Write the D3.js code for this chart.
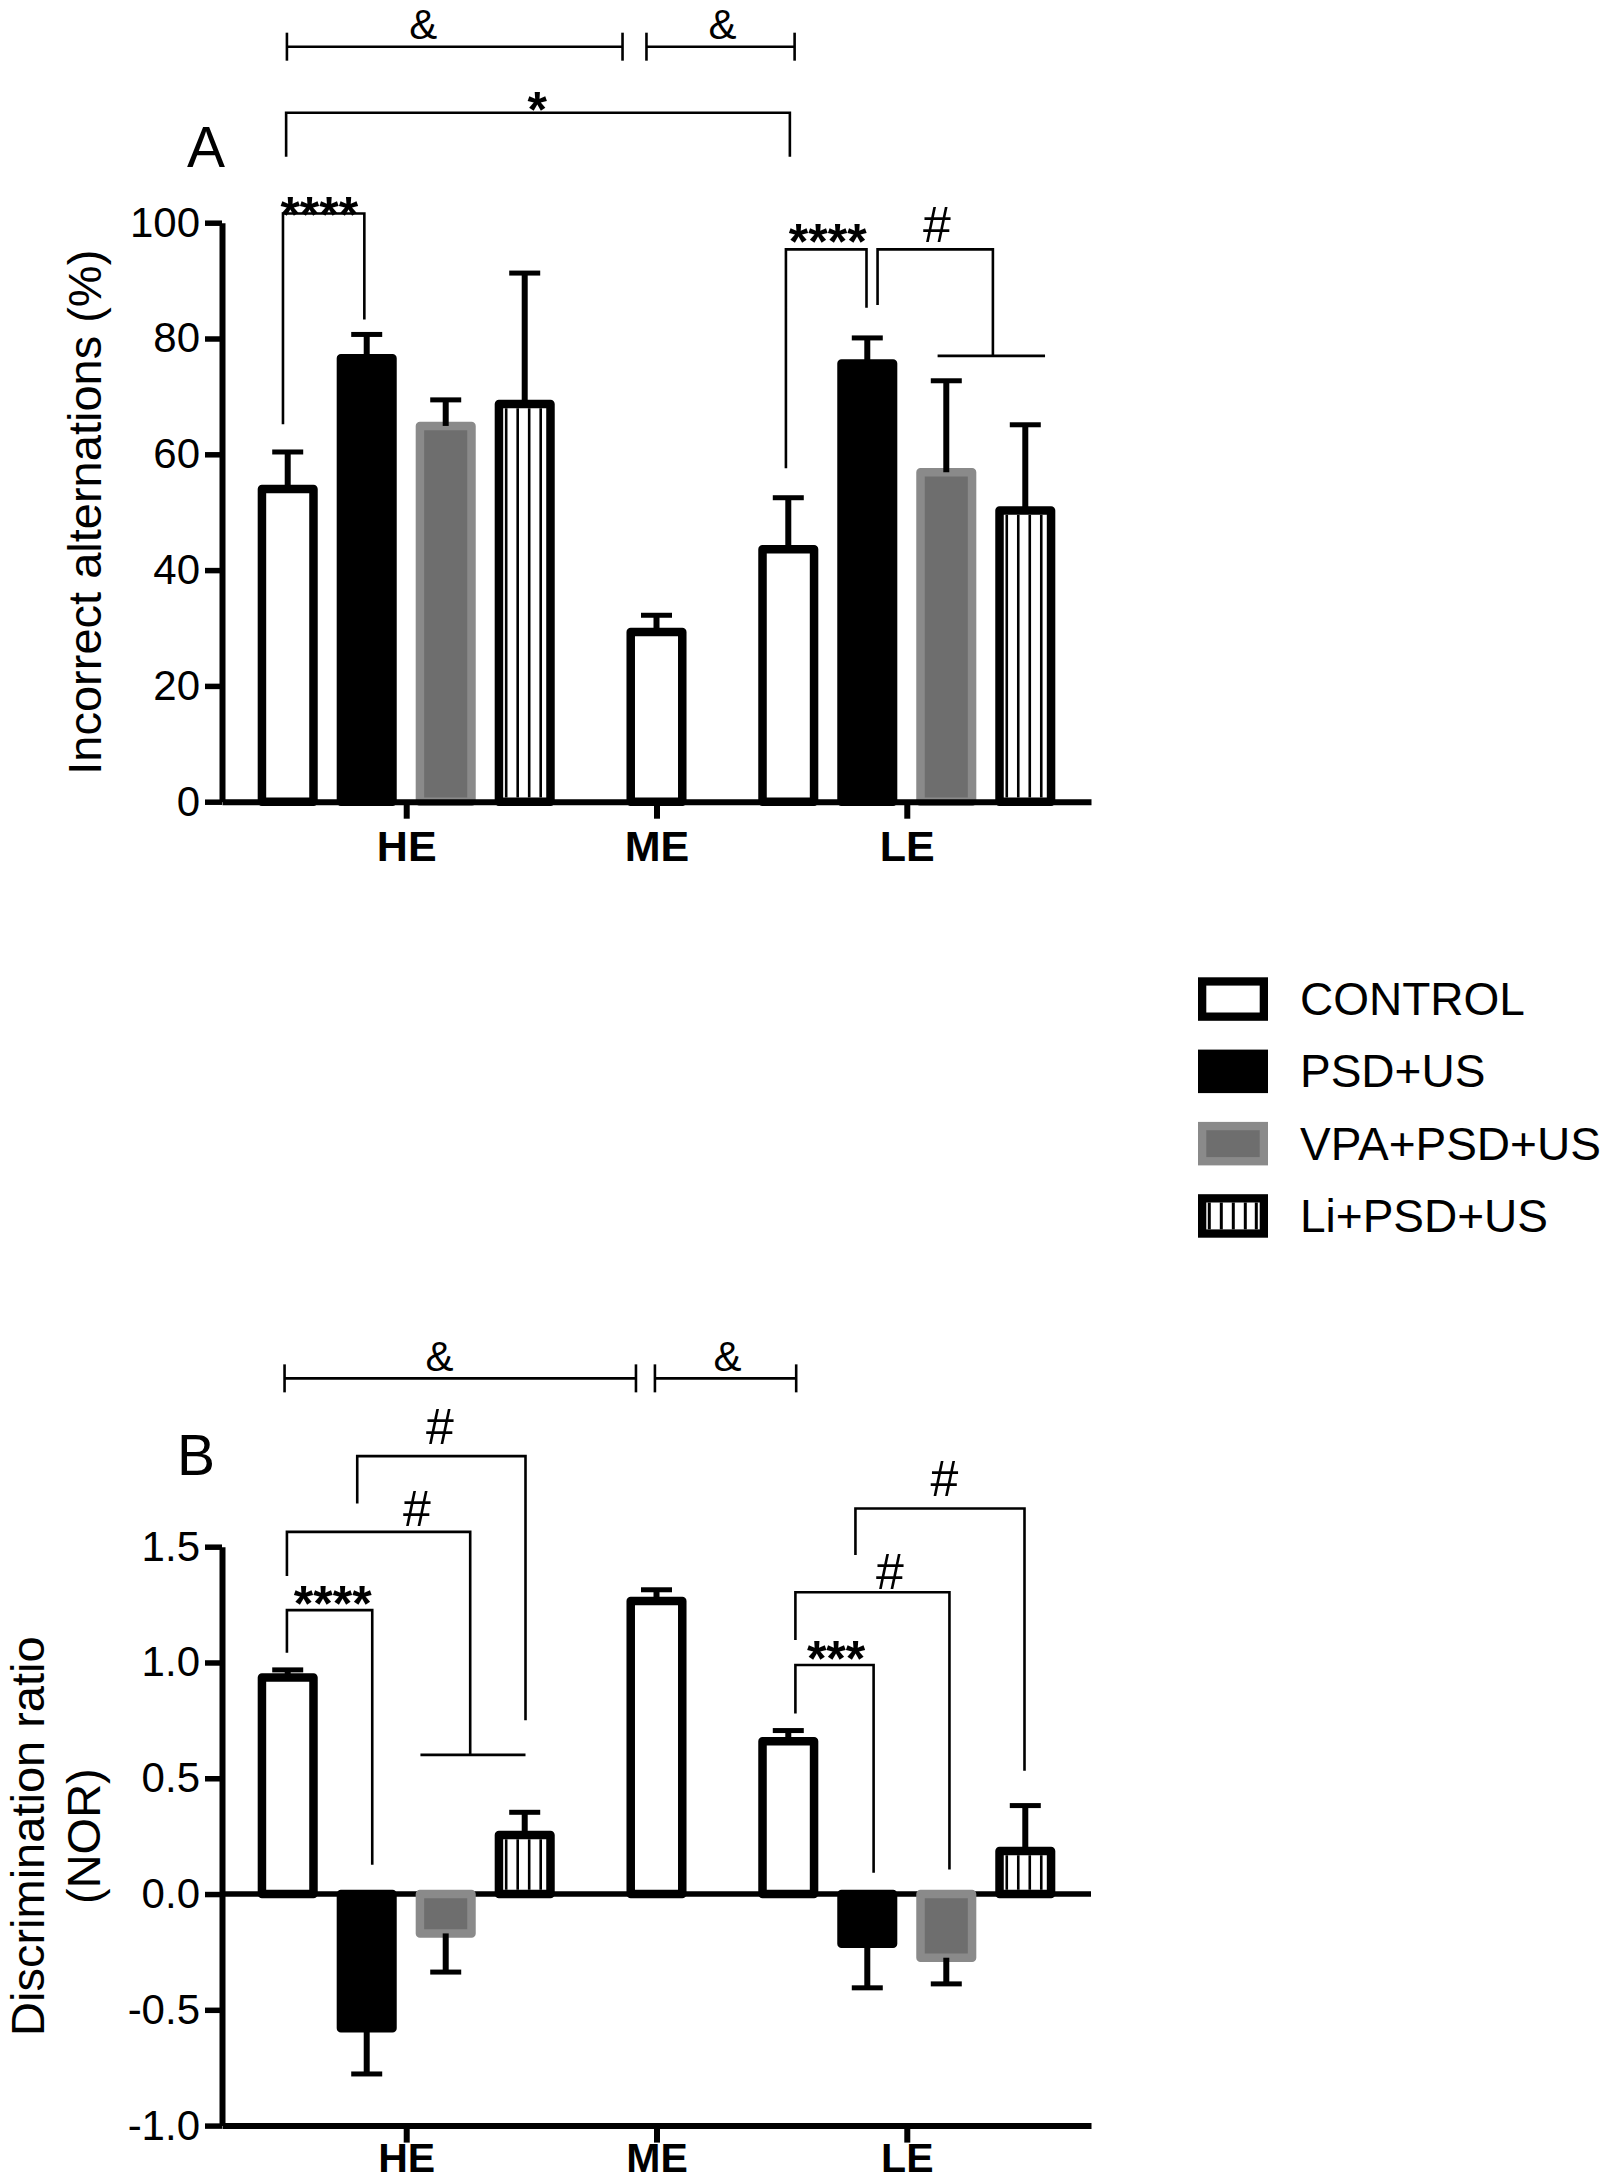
<!DOCTYPE html>
<html>
<head>
<meta charset="utf-8">
<script src="https://cdn.jsdelivr.net/npm/d3@7"></script>
<style>
  body { margin: 0; background: #fff; }
  svg { display: block; }
  text { font-family: "Liberation Sans", Arial, Helvetica, sans-serif; fill: #000; }
</style>
</head>
<body>
<svg id="chart" width="1612" height="2181"></svg>
<script>
// ---------------- DATA ----------------
const groups = ["HE", "ME", "LE"];
const seriesNames = ["CONTROL", "PSD+US", "VPA+PSD+US", "Li+PSD+US"];

// Panel A: Incorrect alternations (%) — mean and top of error bar, per group HE, ME, LE
const altControl    = [54.0, 29.3, 43.6];
const altControlErr = [60.4, 32.2, 52.5];
const altPSD        = [76.6, null, 75.7];
const altPSDErr     = [80.7, null, 80.1];
const altVPA        = [64.9, null, 56.9];
const altVPAErr     = [69.4, null, 72.7];
const altLi         = [68.7, null, 50.3];
const altLiErr      = [91.3, null, 65.1];
const altTicks = [0, 20, 40, 60, 80, 100];

// Panel B: Discrimination ratio (NOR)
const disControl    = [0.935, 1.265, 0.66];
const disControlErr = [0.968, 1.314, 0.706];
const disPSD        = [-0.58, null, -0.215];
const disPSDErr     = [-0.777, null, -0.405];
const disVPA        = [-0.17, null, -0.275];
const disVPAErr     = [-0.337, null, -0.388];
const disLi         = [0.255, null, 0.186];
const disLiErr      = [0.353, null, 0.382];
const disTicks = [-1.0, -0.5, 0.0, 0.5, 1.0, 1.5];

// Significance annotations: x given as [group, offset in bar slots], y in data units
const bracketsA = [
  { kind: "span", x1: ["HE", -1.51], x2: ["ME", -0.43], v: 130.4, label: "&", lx: ["HE", 0.215], lv: 134.4 },
  { kind: "span", x1: ["ME", -0.127], x2: ["LE", -1.42], v: 130.4, label: "&", lx: ["ME", 0.835], lv: 134.4 },
  { kind: "bracket", x1: ["HE", -1.52], x2: ["LE", -1.48], v: 119.0, l1: 111.4, l2: 111.4, label: "*", lx: ["HE", 1.66], lv: 121.4 },
  { kind: "bracket", x1: ["HE", -1.56], x2: ["HE", -0.53], v: 101.6, l1: 65.2, l2: 83.3, label: "****", lx: ["HE", -1.10], lv: 103.2 },
  { kind: "bracket", x1: ["LE", -1.53], x2: ["LE", -0.51], v: 95.4, l1: 57.6, l2: 85.3, label: "****", lx: ["LE", -1.0], lv: 98.6 },
  { kind: "bracket", x1: ["LE", -0.37], x2: ["LE", 1.09], v: 95.4, l1: 85.8, l2: 77.0, h1: ["LE", 0.39], h2: ["LE", 1.75], label: "#", lx: ["LE", 0.38], lv: 99.7 }
];
const bracketsB = [
  { kind: "span", x1: ["HE", -1.54], x2: ["ME", -0.26], v: 2.227, label: "&", lx: ["HE", 0.42], lv: 2.323 },
  { kind: "span", x1: ["ME", -0.02], x2: ["LE", -1.40], v: 2.227, label: "&", lx: ["ME", 0.90], lv: 2.323 },
  { kind: "bracket", x1: ["HE", -0.62], x2: ["HE", 1.51], v: 1.891, l1: 1.687, l2: 0.75, label: "#", lx: ["HE", 0.425], lv: 2.018 },
  { kind: "bracket", x1: ["HE", -1.51], x2: ["HE", 0.81], v: 1.564, l1: 1.374, l2: 0.601, h1: ["HE", 0.18], h2: ["HE", 1.51], label: "#", lx: ["HE", 0.136], lv: 1.667 },
  { kind: "bracket", x1: ["HE", -1.51], x2: ["HE", -0.43], v: 1.226, l1: 1.042, l2: 0.126, label: "****", lx: ["HE", -0.93], lv: 1.302 },
  { kind: "bracket", x1: ["LE", -0.65], x2: ["LE", 1.49], v: 1.665, l1: 1.464, l2: 0.532, label: "#", lx: ["LE", 0.477], lv: 1.796 },
  { kind: "bracket", x1: ["LE", -1.41], x2: ["LE", 0.54], v: 1.303, l1: 1.097, l2: 0.106, label: "#", lx: ["LE", -0.215], lv: 1.392 },
  { kind: "bracket", x1: ["LE", -1.41], x2: ["LE", -0.42], v: 0.989, l1: 0.780, l2: 0.092, label: "***", lx: ["LE", -0.895], lv: 1.064 }
];

// ---------------- LAYOUT / STYLE ----------------
const svg = d3.select("#chart");
const FONT = '"Liberation Sans", Arial, Helvetica, sans-serif';
const plotLeft = 222, plotRight = 1091;
const barStroke = 8.5;

const styles = [
  { fill: "#ffffff", stroke: "#000000", stripes: false },
  { fill: "#000000", stroke: "#000000", stripes: false },
  { fill: "#6e6e6e", stroke: "#8a8a8a", stripes: false },
  { fill: "#ffffff", stroke: "#000000", stripes: true }
];

const xG = d3.scalePoint().domain(groups).range([plotLeft, plotRight]).padding(0.736);
const inner = d3.scaleBand().domain(d3.range(seriesNames.length)).range([-158, 158]).paddingInner(0.24).paddingOuter(0.12);
const step = inner.step();
const bw = inner.bandwidth();
const bx = ([g, off]) => xG(g) + off * step;

function buildRows(means, errs) {
  const rows = [];
  groups.forEach((g, gi) => {
    const present = means.map((m, si) => ({ si, m: m[gi], e: errs[si][gi] })).filter(d => d.m !== null);
    present.forEach((d, k) => {
      rows.push({ group: g, series: d.si, value: d.m, err: d.e,
                  cx: xG(g) + (k - (present.length - 1) / 2) * step });
    });
  });
  return rows;
}

function drawPanel(cfg) {
  const y = d3.scaleLinear().domain(cfg.domain).range(cfg.range);
  const g = svg.append("g");
  const rows = buildRows(cfg.means, cfg.errs);
  const y0 = y(0);

  // zero line (panel B)
  if (cfg.domain[0] < 0) {
    g.append("line").attr("x1", plotLeft).attr("x2", plotRight)
      .attr("y1", y0).attr("y2", y0).attr("stroke", "#000").attr("stroke-width", 5.5);
  }

  // bars
  const bars = g.append("g").selectAll("g.bar").data(rows).join("g").attr("class", "bar");
  bars.append("rect")
    .attr("x", d => d.cx - bw / 2 + barStroke / 2)
    .attr("width", bw - barStroke)
    .attr("y", d => Math.min(y(d.value), y0))
    .attr("height", d => Math.abs(y(d.value) - y0))
    .attr("fill", d => styles[d.series].fill)
    .attr("stroke", d => styles[d.series].stroke)
    .attr("stroke-width", barStroke)
    .attr("stroke-linejoin", "round");
  // stripes
  bars.filter(d => styles[d.series].stripes).each(function(d) {
    const top = Math.min(y(d.value), y0) + barStroke / 2;
    const bot = Math.max(y(d.value), y0) - barStroke / 2;
    const innerL = d.cx - bw / 2 + barStroke;
    const offs = [3, 14.5, 26, 37.5];
    d3.select(this).selectAll("line.stripe").data(offs).join("line")
      .attr("x1", o => innerL + o).attr("x2", o => innerL + o)
      .attr("y1", top).attr("y2", bot)
      .attr("stroke", "#000").attr("stroke-width", 2.6);
  });
  // error bars
  const eb = g.append("g").selectAll("g.err").data(rows).join("g");
  eb.append("line").attr("x1", d => d.cx).attr("x2", d => d.cx)
    .attr("y1", d => y(d.value)).attr("y2", d => y(d.err))
    .attr("stroke", "#000").attr("stroke-width", 6);
  eb.append("line").attr("x1", d => d.cx - 15.5).attr("x2", d => d.cx + 15.5)
    .attr("y1", d => y(d.err)).attr("y2", d => y(d.err))
    .attr("stroke", "#000").attr("stroke-width", 5);

  // y axis
  const ya = g.append("g").attr("transform", `translate(${plotLeft},0)`)
    .call(d3.axisLeft(y).tickValues(cfg.ticks).tickFormat(cfg.fmt).tickSize(17).tickSizeOuter(0).tickPadding(5));
  ya.select(".domain").attr("stroke-width", 6);
  ya.selectAll(".tick line").attr("stroke-width", 5.5);
  ya.selectAll(".tick text").attr("font-size", 42).attr("font-family", FONT).attr("fill", "#000");

  // x axis
  const xa = g.append("g").attr("transform", `translate(0,${y(cfg.domain[0])})`)
    .call(d3.axisBottom(xG).tickSize(17).tickSizeOuter(0).tickPadding(cfg.xPad));
  xa.select(".domain").attr("stroke-width", 6);
  xa.selectAll(".tick line").attr("stroke-width", 6);
  xa.selectAll(".tick text").attr("font-size", cfg.xFont).attr("font-weight", "bold")
    .attr("font-family", FONT).attr("fill", "#000");

  // axis title
  const mid = (cfg.range[0] + cfg.range[1]) / 2;
  cfg.title.forEach((t, i) => {
    g.append("text").attr("transform", `translate(${cfg.titleX[i]},${mid}) rotate(-90)`)
      .attr("text-anchor", "middle").attr("font-size", 47).text(t);
  });

  // panel letter
  g.append("text").attr("x", cfg.letterPos[0]).attr("y", cfg.letterPos[1])
    .attr("text-anchor", "middle").attr("font-size", 57).text(cfg.letter);

  // brackets
  const ann = g.append("g").attr("fill", "none").attr("stroke", "#000").attr("stroke-width", 2.6);
  cfg.brackets.forEach(b => {
    const X1 = bx(b.x1), X2 = bx(b.x2), Y = y(b.v);
    if (b.kind === "span") {
      ann.append("line").attr("x1", X1).attr("x2", X2).attr("y1", Y).attr("y2", Y);
      [X1, X2].forEach(xx => ann.append("line").attr("x1", xx).attr("x2", xx).attr("y1", Y - 14).attr("y2", Y + 14));
    } else {
      ann.append("path").attr("d", `M${X1},${y(b.l1)}V${Y}H${X2}V${y(b.l2)}`);
      if (b.h1) ann.append("line").attr("x1", bx(b.h1)).attr("x2", bx(b.h2)).attr("y1", y(b.l2)).attr("y2", y(b.l2));
    }
    const isStar = b.label.startsWith("*");
    const fs = isStar ? 50 : (b.label === "&" ? 42 : 50);
    const k = isStar ? 0.56 : (b.label === "&" ? 0.36 : 0.35);
    g.append("text").attr("x", bx(b.lx)).attr("y", y(b.lv) + k * fs)
      .attr("text-anchor", "middle").attr("font-size", fs)
      .attr("font-weight", isStar ? "bold" : "normal").text(b.label);
  });
}

drawPanel({
  domain: [0, 100], range: [801.7, 222.7], ticks: altTicks, fmt: d3.format("d"), xPad: 12, xFont: 43,
  means: [altControl, altPSD, altVPA, altLi], errs: [altControlErr, altPSDErr, altVPAErr, altLiErr],
  title: ["Incorrect alternations (%)"], titleX: [101],
  letter: "A", letterPos: [206, 166.7], brackets: bracketsA
});
drawPanel({
  domain: [-1, 1.5], range: [2125.6, 1546.7], ticks: disTicks, fmt: d => d.toFixed(1), xPad: 0, xFont: 41,
  means: [disControl, disPSD, disVPA, disLi], errs: [disControlErr, disPSDErr, disVPAErr, disLiErr],
  title: ["Discrimination ratio", "(NOR)"], titleX: [44, 100],
  letter: "B", letterPos: [196, 1475], brackets: bracketsB
});

// ---------------- LEGEND ----------------
const legend = svg.append("g").attr("transform", "translate(1198,977.3)");
const rowStep = 72.3, boxW = 70, boxH = 43.5, lsw = 8.3;
const items = legend.selectAll("g").data(seriesNames).join("g")
  .attr("transform", (d, i) => `translate(0,${i * rowStep})`);
items.append("rect").attr("x", lsw / 2).attr("y", lsw / 2)
  .attr("width", boxW - lsw).attr("height", boxH - lsw)
  .attr("fill", (d, i) => styles[i].fill).attr("stroke", (d, i) => styles[i].stroke)
  .attr("stroke-width", lsw);
items.filter((d, i) => styles[i].stripes).selectAll("line")
  .data([lsw + 3, lsw + 15, lsw + 27, lsw + 39, lsw + 50]).join("line")
  .attr("x1", o => o).attr("x2", o => o).attr("y1", lsw).attr("y2", boxH - lsw)
  .attr("stroke", "#000").attr("stroke-width", 3);
items.append("text").attr("x", 102).attr("y", 37.7).attr("font-size", 46).text(d => d);
</script>
</body>
</html>
